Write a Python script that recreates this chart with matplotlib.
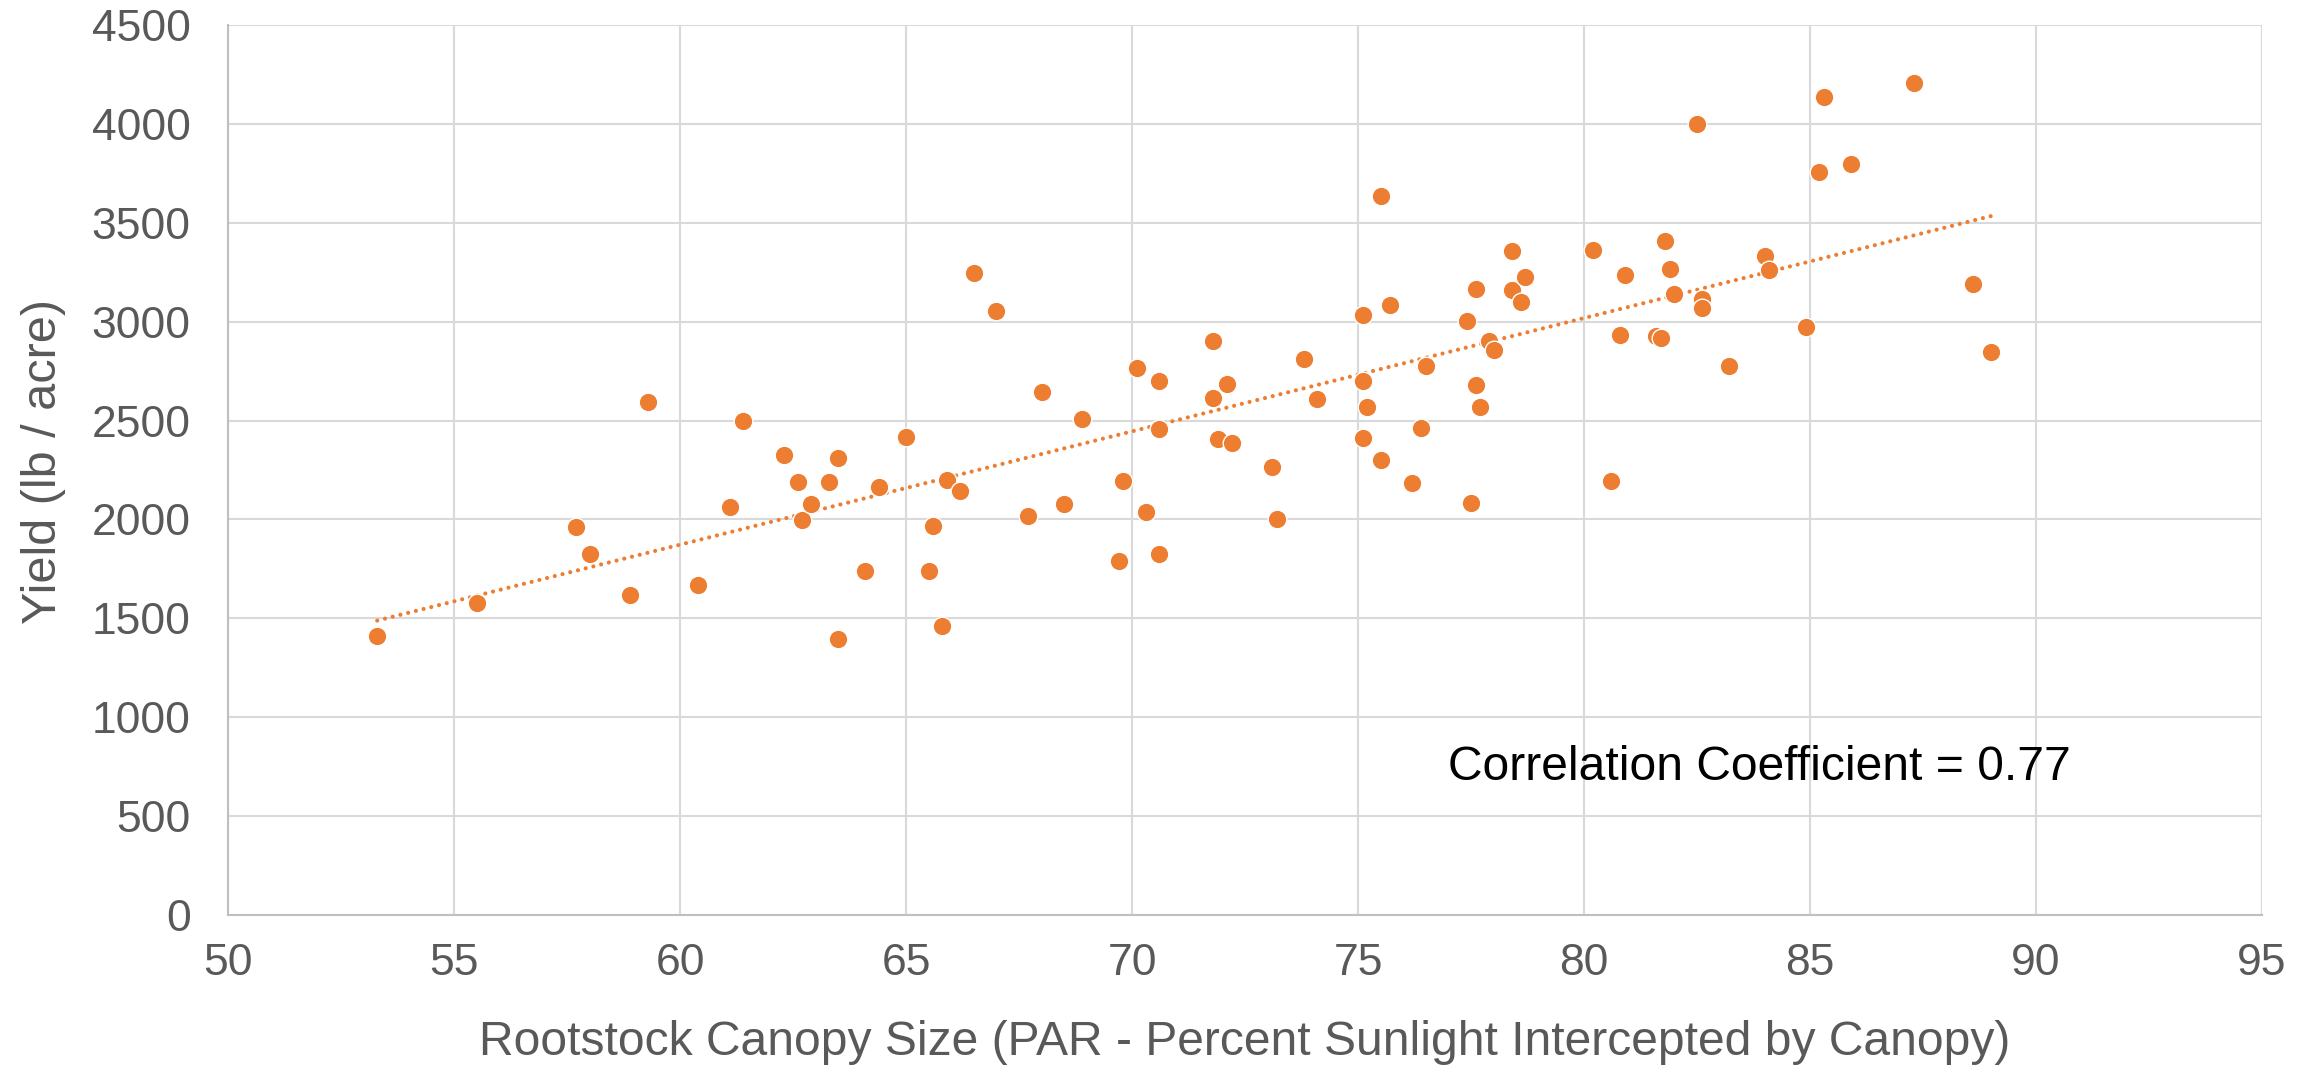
import matplotlib
matplotlib.use("Agg")
import matplotlib.pyplot as plt
import numpy as np

plt.rcParams['font.family'] = ['Liberation Sans', 'DejaVu Sans']

# canopy size (PAR %) and yield (lb/acre)
par = [53.3, 55.5, 57.7, 58.0, 58.9, 59.3, 60.4, 61.1, 61.4, 62.3,
       62.6, 62.7, 62.9, 63.3, 63.5, 63.5, 64.1, 64.4, 65.0, 65.5,
       65.6, 65.8, 65.9, 66.2, 66.5, 67.0, 67.7, 68.0, 68.5, 68.9,
       69.7, 69.8, 70.1, 70.3, 70.6, 70.6, 70.6, 71.8, 71.8, 71.9,
       72.1, 72.2, 73.1, 73.2, 73.8, 74.1, 75.5, 75.1, 75.7, 75.1,
       75.2, 75.1, 75.5, 76.2, 76.4, 76.5, 77.4, 77.5, 77.6, 77.6,
       77.7, 77.9, 78.0, 78.4, 78.4, 78.6, 78.7, 80.2, 80.6, 80.8,
       80.9, 81.6, 81.7, 81.8, 81.9, 82.0, 82.6, 82.6, 83.2, 84.0,
       84.1, 84.9, 85.2, 85.9, 82.5, 85.3, 87.3, 88.6, 89.0]
yield_lb = [1410, 1578, 1963, 1824, 1617, 2595, 1666, 2061, 2500, 2326,
            2189, 1995, 2080, 2187, 2313, 1395, 1740, 2165, 2416, 1737,
            1968, 1463, 2200, 2143, 3244, 3054, 2018, 2645, 2079, 2507,
            1789, 2194, 2766, 2040, 2699, 2455, 1825, 2904, 2613, 2409,
            2684, 2387, 2266, 2003, 2810, 2611, 3638, 3035, 3086, 2702,
            2571, 2411, 2303, 2184, 2463, 2775, 3002, 2083, 2682, 3167,
            2571, 2902, 2858, 3162, 3357, 3098, 3226, 3360, 2194, 2933,
            3234, 2928, 2915, 3406, 3265, 3140, 3116, 3071, 2778, 3333,
            3260, 2973, 3756, 3795, 4000, 4138, 4205, 3193, 2847]

corr_text = "Correlation Coefficient = 0.77"

ORANGE = "#ED7D31"
GREY = "#595959"

fig = plt.figure(figsize=(23.13, 10.66), dpi=100)
ax = fig.add_axes([0.0986, 0.1417, 0.8794, 0.8348])

x = np.array(par)
y = np.array(yield_lb)

# linear trendline over the data range
m, b = np.polyfit(x, y, 1)
xs = np.array([x.min(), x.max()])
ax.plot(xs, m * xs + b, color=ORANGE, lw=3.0, linestyle=(0, (0.01, 1.9)),
        dash_capstyle='round', zorder=2)

ax.scatter(x, y, s=180, color=ORANGE, edgecolors='white', linewidths=1.0, zorder=3)

ax.set_xlim(50, 95)
ax.set_ylim(0, 4500)
ax.set_xticks(np.arange(50, 96, 5))
ax.set_yticks(np.arange(0, 4501, 500))
ax.grid(True, color="#D9D9D9", lw=1.5)
ax.set_axisbelow(True)
for s in ['top', 'right']:
    ax.spines[s].set_visible(False)
for s in ['left', 'bottom']:
    ax.spines[s].set_color("#BFBFBF")
    ax.spines[s].set_linewidth(1.5)
ax.tick_params(length=0, labelsize=32, labelcolor=GREY)
ax.tick_params(axis='x', pad=20)
ax.tick_params(axis='y', pad=27)

ax.set_xlabel("Rootstock Canopy Size (PAR - Percent Sunlight Intercepted by Canopy)",
              fontsize=34.6, color=GREY, va='baseline')
ax.xaxis.set_label_coords(0.5, -0.157)
ax.set_ylabel("Yield (lb / acre)", fontsize=35, color=GREY, va='center')
ax.yaxis.set_label_coords(-0.0905, 0.51)

ax.text(77.0, 748, corr_text, fontsize=34.6, color="black", va='center', ha='left')

fig.savefig("out.png", dpi=100)
